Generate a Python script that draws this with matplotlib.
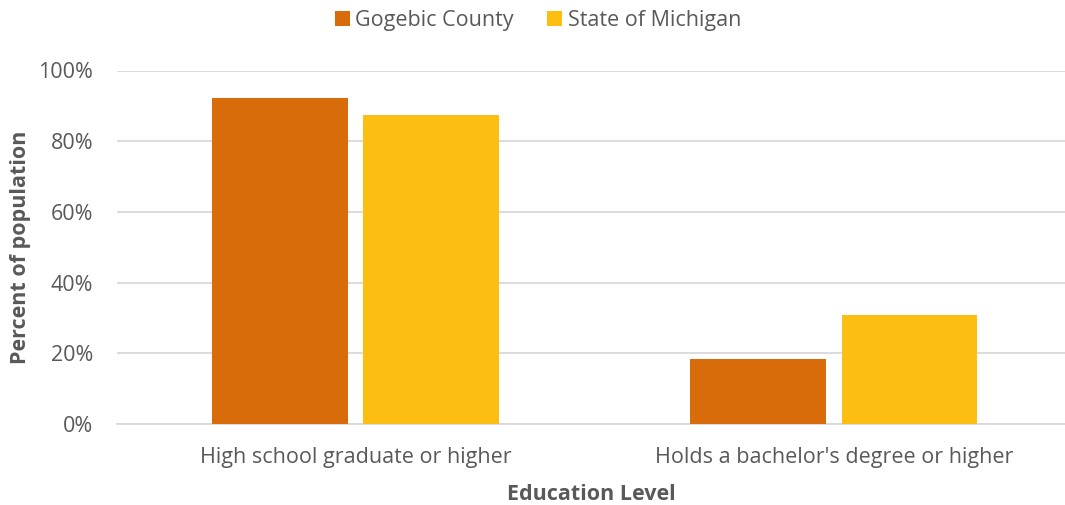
import numpy as np
import matplotlib.pyplot as plt
from matplotlib.ticker import PercentFormatter

# education attainment, share of population
categories = ["High school graduate or higher", "Holds a bachelor's degree or higher"]
gogebic = [0.923, 0.184]
michigan = [0.874, 0.308]
series_names = ["Gogebic County", "State of Michigan"]
colors = ["#D86B0A", "#FDBE12"]

plt.rcParams["font.family"] = ["Open Sans", "DejaVu Sans"]
text_color = "#595959"
grid_color = "#D9D9D9"
fs = 15.5

fig = plt.figure(figsize=(10.65, 5.05), dpi=100)
ax = fig.add_axes([117 / 1065, 1 - 424 / 505, 1 - 117 / 1065, (424 - 70.5) / 505])

x = np.arange(len(categories))
width = 0.284
offset = 0.158
ax.bar(x - offset, gogebic, width, color=colors[0], label=series_names[0], zorder=3)
ax.bar(x + offset, michigan, width, color=colors[1], label=series_names[1], zorder=3)

ax.set_ylim(0, 1)
ax.set_xlim(-0.498, 1.483)
ax.set_yticks(np.arange(0, 1.01, 0.2))
ax.yaxis.set_major_formatter(PercentFormatter(1.0, decimals=0))
ax.set_xticks(x)
ax.set_xticklabels(categories)

ax.grid(axis="y", color=grid_color, linewidth=1.3, zorder=0)
for side in ["top", "right", "left"]:
    ax.spines[side].set_visible(False)
ax.spines["bottom"].set_color(grid_color)
ax.spines["bottom"].set_linewidth(1.3)
ax.tick_params(axis="both", length=0, labelsize=fs, colors=text_color)
ax.tick_params(axis="y", pad=17)
ax.tick_params(axis="x", pad=16.5)

ax.set_xlabel("Education Level", fontsize=fs, fontweight="bold", color=text_color, labelpad=11.5)
ax.set_ylabel("Percent of population", fontsize=fs, fontweight="bold", color=text_color, labelpad=5.5)

fig.legend(loc="upper center", bbox_to_anchor=(538 / 1065, 1.018), ncol=2, frameon=False,
           fontsize=fs, labelcolor=text_color, handlelength=0.7, handleheight=0.7,
           handletextpad=0.25, columnspacing=1.55)

fig.savefig("out.png", dpi=100)
